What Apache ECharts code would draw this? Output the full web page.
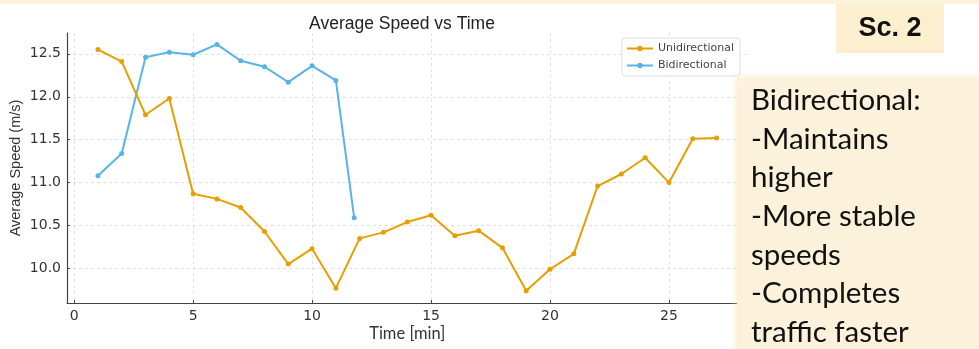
<!DOCTYPE html>
<html><head><meta charset="utf-8">
<script src="https://cdn.jsdelivr.net/npm/echarts@6/dist/echarts.min.js"></script>
<style>html,body{margin:0;padding:0;background:#fff}#c{width:979px;height:349px}</style>
</head><body><div id="c"></div>
<script>
const times = [1,2,3,4,5,6,7,8,9,10,11,12,13,14,15,16,17,18,19,20,21,22,23,24,25,26,27];
const uniSpeed = [12.55,12.41,11.79,11.98,10.87,10.81,10.71,10.43,10.05,10.23,9.77,10.35,10.42,10.54,10.62,10.38,10.44,10.24,9.74,9.99,10.17,10.96,11.10,11.29,11.00,11.51,11.52];
const biTimes = [1,2,3,4,5,6,7,8,9,10,11,11.77];
const biSpeed = [11.08,11.34,12.46,12.52,12.49,12.61,12.42,12.35,12.17,12.36,12.19,10.59];
const xTicks = [0,5,10,15,20,25];
const yTicks = [10.0,10.5,11.0,11.5,12.0,12.5];
const noteLines = ['Bidirectional:','-Maintains','higher','-More stable','speeds','-Completes','traffic faster'];
const badge = 'Sc. 2';

const pair = (xs, ys) => xs.map((x,i)=>[x, ys[i]]);
const chart = echarts.init(document.getElementById('c'), null, {renderer:'canvas'});
const F = 'DejaVu Sans';
chart.setOption({
  animation:false,
  backgroundColor:'#ffffff',
  title:{text:'Average Speed vs Time', left:397, top:10, textAlign:'center',
    textStyle:{fontFamily:'Liberation Sans', fontSize:17.5, fontWeight:'normal', color:'#222'}},
  legend:{right:239, top:38, orient:'vertical', itemWidth:26, itemHeight:7, itemGap:6,
    padding:[5,6,5,4], borderColor:'#ddd', borderWidth:1, borderRadius:3, backgroundColor:'#fff',
    textStyle:{fontFamily:F, fontSize:11, color:'#444'},
    data:[{name:'Unidirectional'},{name:'Bidirectional'}]},
  grid:{left:67, right:231.5, top:33, bottom:46, outerBoundsMode:'none', containLabel:false},
  xAxis:{type:'value', min:-0.3, max:28.3,
    name:'Time [min]', nameLocation:'middle', nameGap:22, nameMoveOverlap:false,
    nameTextStyle:{fontFamily:'Lato', fontSize:16.5, color:'#333'},
    axisLine:{onZero:false, lineStyle:{color:'#444', width:1.2}},
    axisTick:{show:true, inside:true, length:3, customValues:xTicks, lineStyle:{color:'#444'}},
    axisLabel:{customValues:xTicks, fontFamily:F, fontSize:14, color:'#333', margin:6},
    splitLine:{show:true, lineStyle:{color:'#d8d8d8', type:[3,3], width:0.8}}},
  yAxis:{type:'value', min:9.597, max:12.743,
    name:'Average Speed (m/s)', nameLocation:'middle', nameGap:44, nameRotate:90, nameMoveOverlap:false,
    nameTextStyle:{fontFamily:'Liberation Sans', fontSize:14.5, color:'#333'},
    axisLine:{show:true, onZero:false, lineStyle:{color:'#444', width:1.2}},
    axisTick:{show:true, inside:true, length:3, customValues:yTicks, lineStyle:{color:'#444'}},
    axisLabel:{customValues:yTicks, fontFamily:F, fontSize:14, color:'#333', margin:6,
      formatter:v=>Number(v).toFixed(1)},
    splitLine:{show:true, lineStyle:{color:'#d8d8d8', type:[3,3], width:0.8}}},
  series:[
    {name:'Unidirectional', type:'line', data:pair(times, uniSpeed), symbol:'circle', symbolSize:5,
      itemStyle:{color:'#E69F00'}, lineStyle:{color:'#E69F00', width:2}, z:3},
    {name:'Bidirectional', type:'line', data:pair(biTimes, biSpeed), symbol:'circle', symbolSize:5,
      itemStyle:{color:'#56B4E9'}, lineStyle:{color:'#56B4E9', width:2}, z:2}
  ],
  graphic:[
    {type:'rect', shape:{x:0,y:0,width:979,height:4}, style:{fill:'#fcf3dc'}, z:10},
    {type:'rect', shape:{x:836,y:4,width:108,height:49}, style:{fill:'#fcefcf'}, z:10},
    {type:'text', x:890, y:29, style:{text:badge, font:'bold 27px "Liberation Sans"', fill:'#111', align:'center', verticalAlign:'middle'}, z:11},
    {type:'rect', shape:{x:737,y:78,width:250,height:280}, style:{fill:'#fcf2dc', shadowBlur:8, shadowColor:'rgba(245,225,175,0.8)'}, z:10},
    {type:'text', x:751, y:81, style:{text:noteLines.join('\n'), font:'29.5px Lato', lineHeight:38.7, fill:'#111', align:'left', verticalAlign:'top'}, z:11}
  ]
});
</script></body></html>
